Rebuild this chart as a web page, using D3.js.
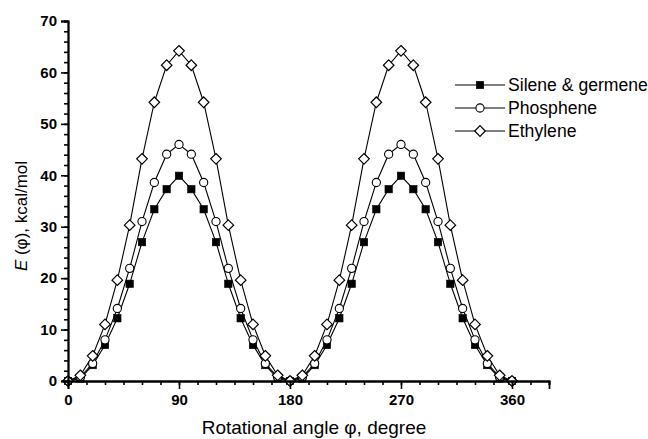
<!DOCTYPE html>
<html>
<head>
<meta charset="utf-8">
<script src="https://cdn.jsdelivr.net/npm/d3@7"></script>
<style>
  html, body { margin: 0; padding: 0; background: #fff; }
  svg { display: block; font-family: "Liberation Sans", Arial, sans-serif; }
</style>
</head>
<body>
<svg id="chart" width="648" height="439"></svg>
<script>
// ---- data ----
const angles = [0,10,20,30,40,50,60,70,80,90,100,110,120,130,140,150,160,170,180,
                190,200,210,220,230,240,250,260,270,280,290,300,310,320,330,340,350,360];
const sileneValues = [0,0.5,3.1,7.0,12.2,18.9,27.0,33.4,37.3,39.9,37.3,33.4,27.0,18.9,12.2,7.0,3.1,0.5,0,
                      0.5,3.1,7.0,12.2,18.9,27.0,33.4,37.3,39.9,37.3,33.4,27.0,18.9,12.2,7.0,3.1,0.5,0];
const phospheneValues = [0,0.8,3.4,8.0,14.1,21.9,31.0,38.6,44.1,46.0,44.1,38.6,31.0,21.9,14.1,8.0,3.4,0.8,0,
                         0.8,3.4,8.0,14.1,21.9,31.0,38.6,44.1,46.0,44.1,38.6,31.0,21.9,14.1,8.0,3.4,0.8,0];
const ethyleneValues = [0,1.1,4.9,11.0,19.6,30.3,43.2,54.2,61.4,64.2,61.4,54.2,43.2,30.3,19.6,11.0,4.9,1.1,0,
                        1.1,4.9,11.0,19.6,30.3,43.2,54.2,61.4,64.2,61.4,54.2,43.2,30.3,19.6,11.0,4.9,1.1,0];
const seriesNames = ["Silene & germene", "Phosphene", "Ethylene"];
const xTickValues = [0, 90, 180, 270, 360];
const yTickValues = [0, 10, 20, 30, 40, 50, 60, 70];
const xTitle = "Rotational angle \u03C6, degree";

// ---- chart ----
const svg = d3.select("#chart");
const x = d3.scaleLinear().domain([0, 390]).range([68, 549]);
const y = d3.scaleLinear().domain([0, 70]).range([381, 21]);

const series = [
  { name: seriesNames[0], values: sileneValues, marker: "square" },
  { name: seriesNames[1], values: phospheneValues, marker: "circle" },
  { name: seriesNames[2], values: ethyleneValues, marker: "diamond" }
];

function drawMarker(g, type, cx, cy) {
  if (type === "square") {
    g.append("rect").attr("x", cx - 3.7).attr("y", cy - 3.7).attr("width", 7.4).attr("height", 7.4)
      .attr("fill", "#000").attr("stroke", "#000").attr("stroke-width", 0.6);
  } else if (type === "circle") {
    g.append("circle").attr("cx", cx).attr("cy", cy).attr("r", 4.1)
      .attr("fill", "#fff").attr("stroke", "#000").attr("stroke-width", 1.1);
  } else {
    const r = 5.3;
    g.append("path").attr("d", `M${cx},${cy - r}L${cx + r},${cy}L${cx},${cy + r}L${cx - r},${cy}Z`)
      .attr("fill", "#fff").attr("stroke", "#000").attr("stroke-width", 1.2);
  }
}

const line = d3.line().x((d, i) => x(angles[i])).y(d => y(d));

const plot = svg.append("g");
series.forEach(s => {
  plot.append("path").datum(s.values).attr("d", line)
    .attr("fill", "none").attr("stroke", "#000").attr("stroke-width", 1.1);
});
// markers: silene, phosphene, then ethylene on top
series.forEach(s => {
  const g = plot.append("g");
  s.values.forEach((v, i) => drawMarker(g, s.marker, x(angles[i]), y(v)));
});

// axes
const xMinor = d3.range(0, 391, 15);
const xAxisMinor = d3.axisBottom(x).tickValues(xMinor).tickSize(4).tickFormat("");
const xAxisMajor = d3.axisBottom(x).tickValues(xTickValues).tickSize(8).tickPadding(5).tickFormat(d3.format("d"));
const yMinor = d3.range(0, 71, 2);
const yAxisMinor = d3.axisLeft(y).tickValues(yMinor).tickSize(4).tickFormat("");
const yAxisMajor = d3.axisLeft(y).tickValues(yTickValues).tickSize(7).tickPadding(4).tickFormat(d3.format("d"));

function styleAxis(g) {
  g.select(".domain").attr("stroke", "#000").attr("stroke-width", 1.8);
  g.selectAll(".tick line").attr("stroke", "#000").attr("stroke-width", 1.6);
  g.selectAll(".tick text").attr("fill", "#000").attr("font-size", 15).attr("font-weight", "bold")
    .attr("font-family", "'Liberation Sans', Arial, sans-serif");
}

svg.append("g").attr("transform", "translate(0,381)").call(xAxisMinor).call(styleAxis);
svg.append("g").attr("transform", "translate(0,381)").call(xAxisMajor).call(styleAxis);
svg.append("g").attr("transform", "translate(68,0)").call(yAxisMinor).call(styleAxis);
svg.append("g").attr("transform", "translate(68,0)").call(yAxisMajor).call(styleAxis);

// axis titles
svg.append("text").attr("x", 314).attr("y", 434).attr("text-anchor", "middle")
  .attr("font-size", 19).attr("fill", "#000").text(xTitle);

const yt = svg.append("text").attr("transform", "translate(27,216) rotate(-90)")
  .attr("text-anchor", "middle").attr("font-size", 17).attr("fill", "#000");
yt.append("tspan").attr("font-style", "italic").text("E");
yt.append("tspan").text(" (\u03C6), kcal/mol");

// legend
const legendY = [85, 108, 131];
series.forEach((s, i) => {
  const g = svg.append("g");
  g.append("line").attr("x1", 455).attr("x2", 505).attr("y1", legendY[i]).attr("y2", legendY[i])
    .attr("stroke", "#000").attr("stroke-width", 1.2);
  drawMarker(g, s.marker, 480, legendY[i]);
  g.append("text").attr("x", 508).attr("y", legendY[i]).attr("dy", "0.35em")
    .attr("font-size", 17.6).attr("fill", "#000").text(s.name);
});
</script>
</body>
</html>
